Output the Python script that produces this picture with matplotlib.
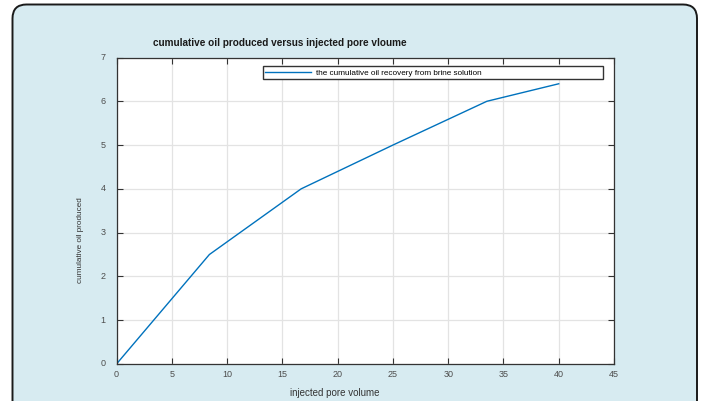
import matplotlib
matplotlib.use("Agg")
import matplotlib.pyplot as plt
from matplotlib.patches import FancyBboxPatch
from matplotlib.transforms import IdentityTransform, ScaledTranslation

# Data
pore_volume = [0, 8.4, 16.7, 25.0, 33.5, 40.0]
cum_oil = [0, 2.5, 4.0, 5.0, 6.0, 6.4]
x_ticks = [0, 5, 10, 15, 20, 25, 30, 35, 40, 45]
y_ticks = [0, 1, 2, 3, 4, 5, 6, 7]
title = "cumulative oil produced versus injected pore vloume"
xlabel = "injected pore volume"
ylabel = "cumulative oil produced"
legend_label = "the cumulative oil recovery from brine solution"

plt.rcParams['font.family'] = ['Liberation Sans', 'DejaVu Sans']

W, H = 702, 402
fig = plt.figure(figsize=(W / 100, H / 100), dpi=100)
fig.patch.set_facecolor('white')

# rounded light-blue panel
panel = FancyBboxPatch((12.5, -30), 684.5, 426.5,
                       boxstyle="round,pad=0,rounding_size=14",
                       transform=IdentityTransform(),
                       facecolor='#d7ebf1', edgecolor='#1a1a1a', linewidth=1.4,
                       zorder=0)
fig.add_artist(panel)

x0, x1 = 116.5, 614.0
y0, y1 = 58.5, 365.0
ax = fig.add_axes([x0 / W, 1 - y1 / H, (x1 - x0) / W, (y1 - y0) / H])
ax.set_facecolor('white')
ax.set_zorder(2)

line, = ax.plot(pore_volume, cum_oil, color='#0072BD', linewidth=1.0)

ax.set_xlim(0, 45)
ax.set_ylim(0, 7)
ax.set_xticks(x_ticks)
ax.set_yticks(y_ticks)
ax.tick_params(direction='in', length=4, width=0.8, top=True, right=True,
               labelsize=6.5, labelcolor='#4d4d4d', color='#333333')
ax.tick_params(axis='x', pad=3.5)
ax.tick_params(axis='y', pad=8)
for s in ax.spines.values():
    s.set_color('#333333')
    s.set_linewidth(0.9)
ax.grid(True, color='#e3e3e3', linewidth=0.9)
ax.set_axisbelow(True)

shift = ScaledTranslation(0, 2 / 100, fig.dpi_scale_trans)
for lab in ax.get_yticklabels():
    lab.set_transform(lab.get_transform() + shift)

fig.text(280 / W, 1 - 43 / H, title, fontsize=7.2, fontweight='bold',
         ha='center', va='center', color='#1a1a1a')
fig.text(334.5 / W, 1 - 393 / H, xlabel, fontsize=7.0, ha='center', va='center',
         color='#333333')
fig.text(81 / W, 1 - 240 / H, ylabel, fontsize=5.9, ha='center', va='center',
         rotation=90, color='#333333')

# legend box
lx0, lx1 = 263, 603
ly0, ly1 = 67.3, 85
leg = ax.legend([line], [legend_label], loc='upper left',
                bbox_to_anchor=(lx0 / W, 1 - ly1 / H, (lx1 - lx0) / W, (ly1 - ly0) / H),
                bbox_transform=fig.transFigure, mode='expand', borderaxespad=0,
                fancybox=False, framealpha=1, fontsize=5.9, handlelength=5.5,
                handletextpad=0.7, borderpad=0.3)
leg.get_frame().set_edgecolor('#333333')
leg.get_frame().set_linewidth(1.0)

fig.savefig('out.png', dpi=100)
